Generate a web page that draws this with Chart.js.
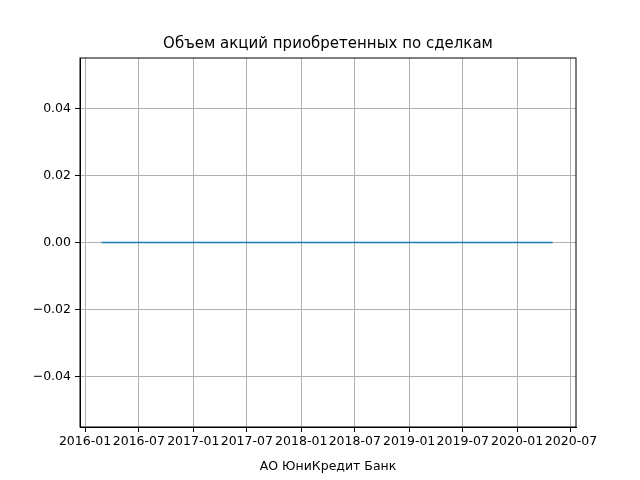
<!DOCTYPE html>
<html><head><meta charset="utf-8">
<script src="https://cdn.jsdelivr.net/npm/chart.js@4"></script>
<style>body{margin:0}#w{width:640px;height:480px}</style></head>
<body><div id="w"><canvas id="c"></canvas></div>
<script>
const dates = ["2016-02-26","2016-09-30","2017-06-30","2018-03-30","2018-12-28","2019-09-30","2020-04-30"];
const values = [0,0,0,0,0,0,0];
const xTickLabels = ["2016-01","2016-07","2017-01","2017-07","2018-01","2018-07","2019-01","2019-07","2020-01","2020-07"];
const yTicks = [-0.04,-0.02,0,0.02,0.04];
const titleText = "Объем акций приобретенных по сделкам";
const ts = s => Date.parse(s.length===7 ? s+"-01T00:00:00Z" : s+"T00:00:00Z");
const font = {family:"DejaVu Sans", size:12.5};
const frame = {id:'frame', afterDraw(c){const a=c.chartArea,x=c.ctx;x.save();
  x.strokeStyle='#000';x.lineWidth=1;x.strokeRect(a.left,a.top,a.right-a.left,a.bottom-a.top);
  x.fillStyle='#000';x.font='15px "DejaVu Sans"';x.textAlign='center';x.textBaseline='middle';
  x.fillText(titleText,(a.left+a.right)/2,44);x.restore();}};
new Chart(document.getElementById('c'), {
  type:'line',
  data:{datasets:[{data:dates.map((d,i)=>({x:ts(d),y:values[i]})),borderColor:'#1f77b4',borderWidth:1.5,pointRadius:0,fill:false}]},
  plugins:[frame],
  options:{
    responsive:true, maintainAspectRatio:false, animation:false,
    layout:{padding:{top:58,right:64,left:0,bottom:0}},
    plugins:{legend:{display:false},tooltip:{enabled:false},title:{display:false}},
    scales:{
      x:{type:'linear',min:ts("2015-12-15"),max:ts("2020-07-18"),
        afterBuildTicks:a=>{a.ticks=xTickLabels.map(l=>({value:ts(l)}));},
        afterFit:a=>{a.height=53;},
        ticks:{color:'#000',font,maxRotation:0,autoSkip:false,padding:2,callback:(v)=>{const d=new Date(v);return d.getUTCFullYear()+"-"+String(d.getUTCMonth()+1).padStart(2,'0');}},
        grid:{color:'#b0b0b0',tickColor:'#000',tickLength:5},
        border:{color:'#000'},
        title:{display:true,text:"АО ЮниКредит Банк",color:'#000',font,padding:{top:0,bottom:6}}},
      y:{min:-0.055,max:0.055,
        afterBuildTicks:a=>{a.ticks=yTicks.map(v=>({value:v}));},
        afterFit:a=>{a.width=80;},
        ticks:{color:'#000',font,padding:4,callback:v=>(v<0?"\u2212":"")+Math.abs(v).toFixed(2)},
        grid:{color:'#b0b0b0',tickColor:'#000',tickLength:5},
        border:{color:'#000'}}
    }
  }
});
</script></body></html>
